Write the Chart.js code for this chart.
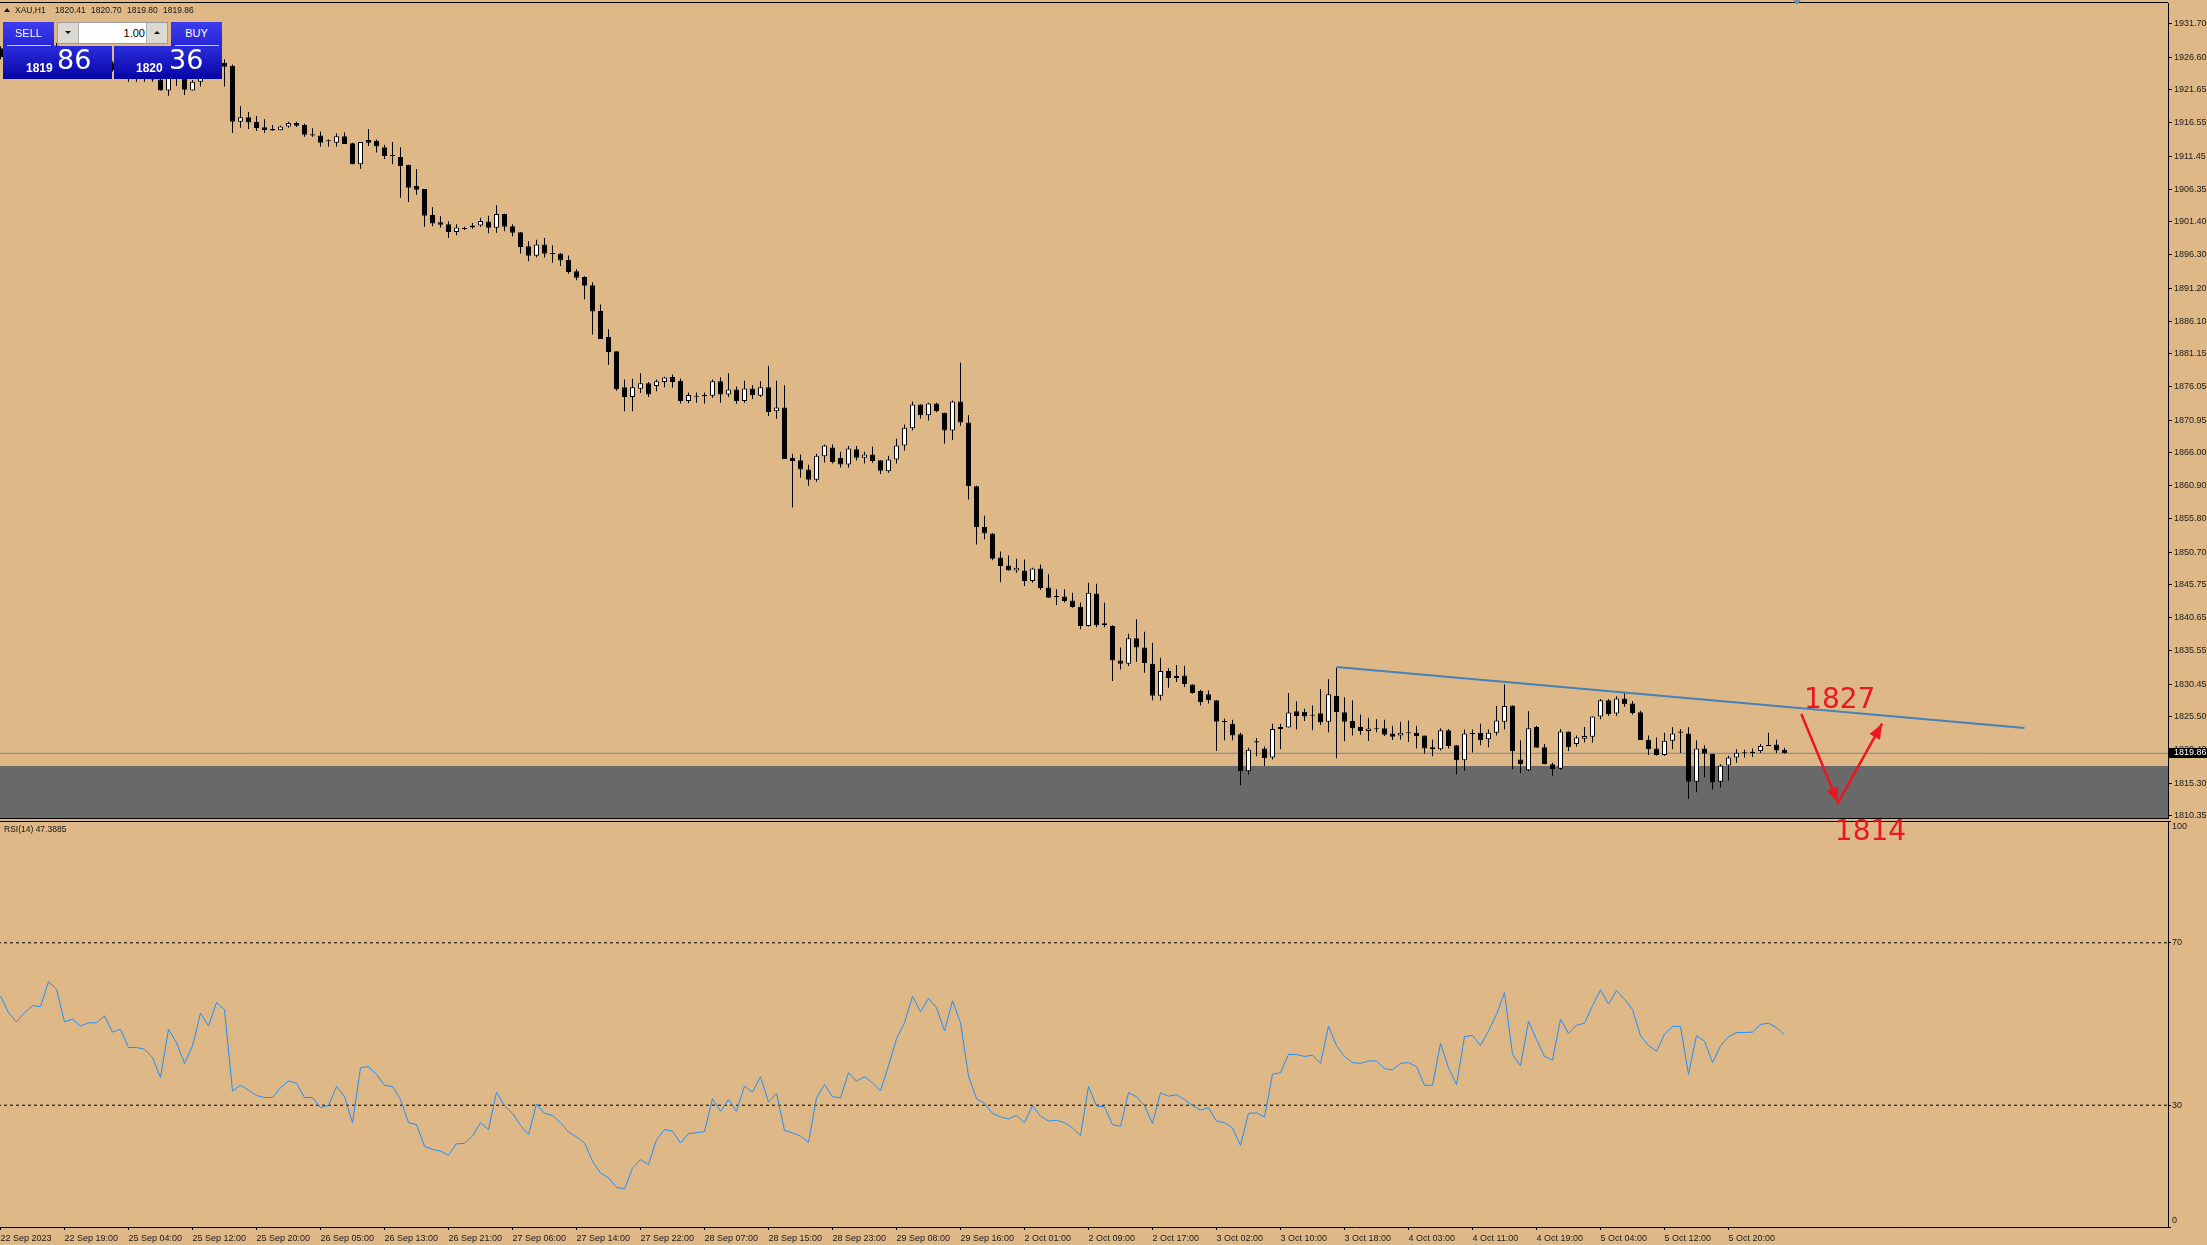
<!DOCTYPE html>
<html>
<head>
<meta charset="utf-8">
<script src="https://cdn.jsdelivr.net/npm/chart.js@4.4.0/dist/chart.umd.min.js"></script>
<style>
  html, body { margin: 0; padding: 0; background: #deb887; width: 2207px; height: 1245px; overflow: hidden;
    font-family: 'Liberation Sans', Arial, sans-serif; }
  canvas { position: absolute; left: 0; }
  #rsiCanvas { top: 821px; z-index: 1; }
  #mainCanvas { top: 0; z-index: 2; }
  #hdr span { position: absolute; top: 5px; font-size: 8.5px; line-height: 10px; color: #151515; z-index: 5; }
  .hTri { position: absolute; left: 4px; top: 8px; width: 0; height: 0; z-index: 5;
    border-left: 3px solid transparent; border-right: 3px solid transparent; border-bottom: 4px solid #111; }
  .btn { position: absolute; top: 22px; height: 24px; width: 51px; color: #fff; font-size: 11px; line-height: 23px;
    text-align: center; background: linear-gradient(#3c3cec, #2626d6); z-index: 5; }
  #sell { left: 3px; }
  #buy { left: 171px; }
  .sep { position: absolute; top: 45px; height: 1px; background: rgba(255,255,255,0.75); z-index: 6; }
  #lotBox { position: absolute; left: 57px; top: 22px; width: 109px; height: 20px; border: 1px solid #9c9c9c;
    background: #fff; z-index: 5; }
  .spin { position: absolute; top: 0; width: 20px; height: 20px; background: #dcd9d3; }
  #dn { left: 0; border-right: 1px solid #b0b0b0; }
  #up { right: 0; border-left: 1px solid #b0b0b0; }
  .spin i { position: absolute; left: 7px; top: 8px; width: 0; height: 0;
    border-left: 3px solid transparent; border-right: 3px solid transparent; }
  #dn i { border-top: 3px solid #111; }
  #up i { border-bottom: 3px solid #111; }
  #lot { position: absolute; left: 21px; width: 66px; top: 0; height: 20px; line-height: 20px; text-align: right;
    font-size: 11px; color: #000; }
  .pbox { position: absolute; top: 46px; height: 33px; background: linear-gradient(#2c2cdc, #0505a4); z-index: 5; }
  #sellBox { left: 3px; width: 109px; }
  #buyBox { left: 114px; width: 108px; }
  .pbox .small { position: absolute; top: 16px; font-size: 12px; line-height: 12px; font-weight: bold; color: #fff; }
  .pbox .big { position: absolute; top: 0; font-family: 'DejaVu Sans', sans-serif; font-size: 27px; line-height: 27px; color: #fff; }
  #rsiLabel { position: absolute; left: 4px; top: 824px; font-size: 8.5px; line-height: 10px; color: #151515; z-index: 5; }
  #shiftMark { position: absolute; left: 1793px; top: 0; width: 0; height: 0; z-index: 5;
    border-left: 4px solid transparent; border-right: 4px solid transparent; border-top: 5px solid #7f8fa0; }
</style>
</head>
<body>
<canvas id="rsiCanvas" width="2207" height="424"></canvas>
<canvas id="mainCanvas" width="2207" height="860"></canvas>

<div id="hdr">
  <div class="hTri"></div>
  <span style="left:15px">XAU,H1</span>
  <span style="left:55px">1820.41</span>
  <span style="left:91px">1820.70</span>
  <span style="left:127px">1819.80</span>
  <span style="left:163px">1819.86</span>
</div>
<div class="btn" id="sell">SELL</div>
<div id="lotBox"><div class="spin" id="dn"><i></i></div><div id="lot">1.00</div><div class="spin" id="up"><i></i></div></div>
<div class="btn" id="buy">BUY</div>
<div class="sep" style="left:7px;width:44px"></div>
<div class="sep" style="left:175px;width:44px"></div>
<div class="pbox" id="sellBox"><span class="small" style="left:23px">1819</span><span class="big" style="left:54px">86</span></div>
<div class="pbox" id="buyBox"><span class="small" style="left:22px">1820</span><span class="big" style="left:55px">36</span></div>
<div id="rsiLabel">RSI(14) 47.3885</div>
<div id="shiftMark"></div>

<script>
// XAUUSD H1 candles, bar 0 = 22 Sep 2023
const opens = [
  1928.0, 1926.6, 1925.8, 1925.2, 1925.9, 1926.4, 1926.3, 1928.4, 1927.9, 1925.4,
  1925.6, 1925.1, 1925.3, 1925.3, 1925.8, 1924.6, 1924.8, 1923.6, 1923.7, 1923.5,
  1923.2, 1921.5, 1923.6, 1923.3, 1921.5, 1922.85, 1925.2, 1924.3, 1925.76, 1925.3,
  1916.7, 1917.4, 1916.67, 1915.85, 1915.6, 1915.4, 1916.0, 1916.5, 1916.2, 1914.8,
  1914.6, 1913.75, 1913.5, 1914.5, 1913.4, 1910.2, 1913.9, 1913.8, 1912.8, 1911.6,
  1911.3, 1910.1, 1906.9, 1906.4, 1902.4, 1901.3, 1901.0, 1899.8, 1900.3, 1900.5,
  1900.8, 1901.4, 1900.45, 1902.55, 1900.7, 1899.75, 1897.6, 1896.15, 1897.9, 1896.6,
  1896.5, 1895.5, 1893.8, 1892.9, 1891.65, 1887.7, 1883.7, 1881.5, 1876.0, 1874.5,
  1875.75, 1876.6, 1876.2, 1876.8, 1877.55, 1877.0, 1873.9, 1874.55, 1874.6, 1874.7,
  1876.9, 1874.9, 1875.65, 1873.9, 1875.8, 1874.7, 1876.0, 1872.3, 1872.9, 1865.2,
  1864.8, 1863.4, 1861.8, 1865.4, 1866.75, 1865.2, 1864.15, 1866.5, 1865.2, 1865.7,
  1864.8, 1863.1, 1864.9, 1867.05, 1869.7, 1873.35, 1871.7, 1873.5, 1872.1, 1869.35,
  1873.8, 1870.6, 1860.8, 1854.6, 1853.55, 1849.9, 1848.65, 1847.9, 1847.9, 1846.3,
  1848.2, 1845.3, 1844.0, 1843.9, 1843.3, 1842.35, 1839.4, 1844.35, 1839.8, 1839.4,
  1834.1, 1833.6, 1837.5, 1836.1, 1833.6, 1828.7, 1832.5, 1831.4, 1831.8, 1830.4,
  1829.4, 1828.9, 1828.0, 1824.8, 1824.4, 1822.8, 1817.1, 1821.7, 1820.6, 1819.2,
  1823.9, 1823.8, 1826.3, 1826.25, 1825.65, 1826.0, 1824.7, 1828.7, 1826.15, 1824.8,
  1823.9, 1823.3, 1823.65, 1823.7, 1822.9, 1822.6, 1823.0, 1823.0, 1822.6, 1820.8,
  1820.5, 1823.4, 1821.1, 1818.8, 1823.0, 1823.0, 1822.0, 1823.0, 1824.7, 1827.2,
  1818.9, 1817.25, 1823.9, 1820.8, 1818.2, 1817.5, 1823.2, 1821.3, 1822.1, 1822.4,
  1825.5, 1828.0, 1825.95, 1828.25, 1827.5, 1826.15, 1821.95, 1820.6, 1819.6, 1821.8,
  1823.2, 1822.9, 1815.5, 1820.6, 1819.8, 1815.5, 1818.0, 1819.2, 1819.9, 1820.1,
  1820.2, 1821.0, 1821.2, 1820.41
];
const highs = [
  1928.3, 1927.0, 1926.1, 1926.1, 1926.7, 1926.8, 1928.9, 1928.8, 1928.1, 1926.0,
  1925.9, 1925.6, 1925.7, 1926.1, 1926.0, 1925.1, 1925.0, 1924.1, 1924.0, 1923.9,
  1923.6, 1923.9, 1923.9, 1923.6, 1923.1, 1925.4, 1925.6, 1926.1, 1926.3, 1925.5,
  1919.1, 1918.2, 1917.6, 1917.1, 1916.2, 1916.1, 1916.7, 1916.7, 1916.4, 1915.7,
  1915.2, 1914.0, 1914.9, 1915.1, 1913.5, 1913.6, 1915.6, 1914.0, 1913.2, 1913.6,
  1912.8, 1910.1, 1909.45, 1906.4, 1903.6, 1902.2, 1901.4, 1901.0, 1900.6, 1901.2,
  1902.0, 1902.3, 1903.9, 1902.6, 1901.0, 1899.8, 1898.4, 1898.6, 1898.9, 1897.75,
  1896.6, 1896.2, 1894.1, 1893.0, 1892.1, 1888.7, 1884.9, 1881.5, 1877.2, 1877.3,
  1878.15, 1876.8, 1877.2, 1877.6, 1877.95, 1877.35, 1875.2, 1875.2, 1875.2, 1877.2,
  1877.54, 1878.15, 1876.1, 1877.0, 1876.3, 1876.9, 1879.3, 1877.0, 1876.3, 1865.8,
  1865.7, 1864.1, 1865.8, 1867.2, 1867.2, 1866.1, 1867.0, 1867.0, 1866.1, 1866.9,
  1864.8, 1865.5, 1868.1, 1870.3, 1873.8, 1873.4, 1873.6, 1873.6, 1872.1, 1873.95,
  1879.8, 1871.7, 1860.9, 1856.3, 1853.6, 1850.8, 1850.2, 1849.7, 1849.6, 1848.3,
  1848.8, 1847.3, 1845.0, 1845.0, 1844.5, 1842.97, 1846.0, 1845.85, 1843.0, 1839.5,
  1836.1, 1838.2, 1840.4, 1838.5, 1836.8, 1834.5, 1832.9, 1833.4, 1833.3, 1830.4,
  1829.6, 1829.5, 1828.0, 1825.2, 1825.0, 1823.0, 1820.7, 1822.2, 1820.9, 1824.4,
  1824.4, 1829.1, 1827.8, 1826.7, 1827.2, 1829.7, 1831.2, 1832.95, 1828.45, 1828.0,
  1825.8, 1825.3, 1825.1, 1825.0, 1824.1, 1824.7, 1824.9, 1824.1, 1822.6, 1821.95,
  1823.7, 1823.6, 1821.1, 1823.5, 1823.5, 1824.4, 1823.5, 1827.1, 1830.4, 1827.2,
  1821.85, 1826.3, 1824.1, 1821.3, 1818.4, 1823.6, 1823.2, 1822.6, 1823.9, 1825.5,
  1828.2, 1828.2, 1828.6, 1829.1, 1827.9, 1826.4, 1822.6, 1822.3, 1823.0, 1823.85,
  1823.6, 1823.85, 1821.85, 1821.1, 1819.8, 1818.2, 1819.5, 1820.5, 1820.4, 1820.6,
  1821.3, 1823.0, 1821.95, 1820.70
];
const lows = [
  1926.3, 1925.5, 1924.9, 1925.0, 1925.7, 1926.0, 1926.1, 1927.6, 1925.1, 1925.1,
  1924.8, 1924.9, 1925.0, 1925.1, 1924.4, 1924.3, 1922.85, 1922.85, 1922.85, 1922.85,
  1921.5, 1920.7, 1922.2, 1920.8, 1921.5, 1922.1, 1924.0, 1924.1, 1922.1, 1915.0,
  1915.8, 1915.6, 1915.3, 1915.0, 1915.35, 1915.4, 1915.8, 1915.9, 1914.4, 1914.4,
  1912.9, 1912.9, 1912.9, 1913.3, 1910.2, 1909.5, 1913.0, 1912.0, 1911.0, 1910.2,
  1905.05, 1904.4, 1905.5, 1900.6, 1900.7, 1900.5, 1898.9, 1899.3, 1900.1, 1900.3,
  1900.6, 1899.6, 1899.7, 1899.9, 1899.1, 1896.5, 1895.3, 1895.9, 1895.9, 1895.1,
  1894.6, 1893.4, 1892.4, 1889.5, 1884.1, 1883.4, 1879.4, 1875.45, 1872.3, 1872.3,
  1875.1, 1874.5, 1875.4, 1876.0, 1875.9, 1873.5, 1873.55, 1873.6, 1873.45, 1874.4,
  1873.6, 1874.5, 1873.45, 1873.6, 1874.2, 1874.5, 1871.6, 1871.15, 1865.0, 1857.55,
  1862.1, 1860.9, 1861.5, 1864.45, 1864.3, 1863.7, 1863.7, 1864.75, 1864.3, 1864.4,
  1862.7, 1862.9, 1864.3, 1866.3, 1869.35, 1871.2, 1870.9, 1872.15, 1867.35, 1867.9,
  1870.1, 1858.8, 1851.9, 1852.7, 1849.45, 1846.1, 1847.9, 1847.55, 1845.5, 1846.0,
  1844.9, 1843.7, 1842.6, 1843.0, 1842.2, 1838.9, 1839.3, 1839.2, 1839.2, 1830.95,
  1832.7, 1833.25, 1833.9, 1832.2, 1828.0, 1828.0, 1829.9, 1830.8, 1830.03, 1829.0,
  1827.2, 1827.5, 1820.2, 1821.85, 1821.85, 1814.95, 1816.6, 1819.4, 1817.9, 1818.9,
  1820.5, 1823.8, 1823.5, 1824.8, 1823.4, 1824.2, 1823.1, 1819.1, 1821.7, 1822.6,
  1822.7, 1821.75, 1823.1, 1822.5, 1821.9, 1821.95, 1821.6, 1820.6, 1819.8, 1819.4,
  1820.3, 1820.6, 1816.6, 1817.2, 1820.0, 1821.1, 1820.8, 1822.6, 1823.5, 1817.4,
  1816.8, 1817.1, 1820.7, 1818.2, 1816.4, 1817.3, 1820.2, 1820.9, 1821.5, 1821.5,
  1825.1, 1825.6, 1825.6, 1827.0, 1825.8, 1821.9, 1819.6, 1819.5, 1819.5, 1820.5,
  1819.9, 1812.85, 1813.9, 1816.2, 1814.3, 1814.6, 1815.7, 1818.4, 1819.2, 1819.3,
  1819.9, 1821.0, 1819.9, 1819.80
];
const closes = [
  1926.6, 1925.8, 1925.2, 1925.9, 1926.4, 1926.3, 1928.4, 1927.9, 1925.4, 1925.6,
  1925.1, 1925.3, 1925.3, 1925.8, 1924.6, 1924.8, 1923.6, 1923.7, 1923.5, 1923.2,
  1921.5, 1923.6, 1923.3, 1921.6, 1922.85, 1925.2, 1924.3, 1925.8, 1925.15, 1916.7,
  1917.4, 1916.6, 1915.74, 1915.44, 1915.35, 1916.0, 1916.5, 1916.1, 1914.7, 1914.6,
  1913.5, 1913.85, 1914.5, 1913.3, 1910.2, 1913.6, 1913.5, 1912.9, 1911.45, 1911.4,
  1909.9, 1906.6, 1906.3, 1902.3, 1901.1, 1900.9, 1899.8, 1900.5, 1900.35, 1900.8,
  1901.5, 1900.45, 1902.55, 1900.6, 1899.7, 1897.5, 1896.15, 1897.9, 1896.45, 1896.4,
  1895.45, 1893.65, 1892.8, 1891.55, 1887.6, 1883.4, 1881.4, 1875.7, 1874.5, 1876.0,
  1876.6, 1874.9, 1876.9, 1877.5, 1876.8, 1873.9, 1874.8, 1874.65, 1874.8, 1876.9,
  1874.9, 1875.65, 1873.9, 1875.8, 1874.8, 1876.0, 1872.2, 1872.9, 1865.0, 1864.7,
  1863.4, 1861.8, 1865.5, 1867.05, 1864.55, 1864.15, 1866.6, 1865.2, 1865.7, 1864.7,
  1863.2, 1864.9, 1867.05, 1869.8, 1873.35, 1871.7, 1873.5, 1872.3, 1869.35, 1873.8,
  1870.6, 1860.8, 1854.55, 1853.55, 1849.7, 1848.6, 1847.9, 1848.3, 1846.3, 1848.2,
  1845.2, 1843.7, 1843.8, 1843.2, 1842.3, 1839.4, 1844.5, 1839.5, 1839.55, 1834.1,
  1833.6, 1837.5, 1836.1, 1833.7, 1828.7, 1832.5, 1831.4, 1831.7, 1830.5, 1829.1,
  1827.7, 1828.0, 1824.7, 1824.7, 1822.6, 1817.1, 1820.4, 1821.5, 1819.1, 1823.6,
  1823.6, 1826.1, 1825.6, 1825.5, 1825.75, 1824.6, 1828.9, 1826.2, 1824.7, 1823.7,
  1823.3, 1823.65, 1823.75, 1822.7, 1822.4, 1823.0, 1823.05, 1822.5, 1820.6, 1820.5,
  1823.4, 1821.0, 1818.8, 1822.9, 1822.8, 1821.85, 1823.0, 1824.9, 1827.1, 1820.2,
  1818.2, 1823.7, 1820.7, 1818.2, 1817.4, 1823.2, 1820.8, 1822.3, 1822.5, 1825.5,
  1828.0, 1825.9, 1828.25, 1827.4, 1826.05, 1821.9, 1820.5, 1819.6, 1821.8, 1822.9,
  1823.0, 1815.5, 1820.6, 1819.8, 1815.4, 1818.0, 1819.2, 1819.95, 1820.0, 1819.9,
  1821.0, 1821.1, 1820.3, 1819.86
];

// RSI(14) per bar
const rsiValues = [
  56.9, 52.8, 50.5, 52.8, 54.5, 54.3, 60.4, 58.6, 50.5, 51.2,
  49.5, 50.3, 50.3, 52.0, 48.0, 48.7, 44.2, 44.2, 43.8, 41.7,
  36.8, 48.7, 45.4, 40.3, 44.6, 52.7, 49.5, 55.3, 53.5, 33.5,
  34.9, 33.7, 32.4, 31.9, 31.9, 34.3, 36.0, 35.4, 31.9, 31.9,
  29.4, 29.9, 34.6, 32.1, 25.7, 39.2, 39.5, 37.6, 34.9, 34.6,
  31.4, 25.7, 25.2, 19.9, 19.1, 18.7, 17.7, 20.5, 20.6, 22.4,
  25.7, 24.0, 33.2, 29.8, 28.0, 25.0, 22.8, 30.3, 28.0, 27.5,
  25.7, 23.4, 22.2, 20.7, 16.2, 13.3, 12.1, 9.8, 9.4, 14.5,
  16.6, 15.4, 21.5, 24.0, 23.6, 20.7, 23.0, 23.2, 23.5, 31.6,
  28.5, 31.4, 28.5, 34.7, 33.2, 37.0, 30.8, 32.9, 23.8, 23.2,
  22.4, 20.9, 31.8, 35.1, 32.1, 31.8, 38.0, 35.9, 37.0, 35.5,
  33.5, 39.7, 46.4, 50.3, 56.8, 53.0, 56.3, 54.0, 48.3, 55.7,
  50.3, 37.2, 31.6, 30.4, 28.0, 27.1, 26.6, 27.5, 25.7, 29.9,
  27.3, 26.1, 26.3, 25.7, 24.4, 22.5, 34.6, 29.8, 29.6, 25.2,
  24.8, 33.1, 32.1, 29.9, 25.5, 33.1, 32.2, 32.6, 31.4, 29.9,
  28.8, 29.4, 26.1, 25.7, 24.4, 20.1, 28.0, 28.1, 27.1, 37.6,
  38.0, 42.5, 42.5, 42.0, 42.3, 40.3, 49.5, 44.7, 42.0, 40.5,
  40.3, 40.9, 40.9, 39.0, 38.7, 40.3, 40.5, 39.5, 34.9, 34.9,
  45.2, 39.2, 35.1, 46.9, 47.2, 44.7, 48.3, 52.4, 57.7, 42.5,
  39.7, 50.7, 46.2, 42.0, 41.1, 51.2, 47.7, 49.7, 50.2, 54.5,
  58.4, 54.9, 58.2, 56.1, 53.6, 47.1, 44.7, 43.3, 47.5, 49.4,
  49.4, 37.6, 47.1, 45.8, 40.5, 44.6, 46.9, 47.9, 47.9, 48.0,
  49.9, 50.2, 49.1, 47.39
];

const xTickLabels = [
  '22 Sep 2023', '22 Sep 19:00', '25 Sep 04:00', '25 Sep 12:00', '25 Sep 20:00', '26 Sep 05:00',
  '26 Sep 13:00', '26 Sep 21:00', '27 Sep 06:00', '27 Sep 14:00', '27 Sep 22:00', '28 Sep 07:00',
  '28 Sep 15:00', '28 Sep 23:00', '29 Sep 08:00', '29 Sep 16:00', '2 Oct 01:00', '2 Oct 09:00',
  '2 Oct 17:00', '3 Oct 02:00', '3 Oct 10:00', '3 Oct 18:00', '4 Oct 03:00', '4 Oct 11:00',
  '4 Oct 19:00', '5 Oct 04:00', '5 Oct 12:00', '5 Oct 20:00'
];
const priceTicks = [
  1931.70, 1926.60, 1921.65, 1916.55, 1911.45, 1906.35, 1901.40, 1896.30, 1891.20, 1886.10,
  1881.15, 1876.05, 1870.95, 1866.00, 1860.90, 1855.80, 1850.70, 1845.75, 1840.65, 1835.55,
  1830.45, 1825.50, 1820.40, 1815.30, 1810.35
];
const rsiTicks = [100, 70, 30, 0];
const rsiLevels = [70, 30];

const lastPrice = 1819.86;
const zoneTop = 1817.9;
const trendLine = [{ bar: 167, price: 1833.1 }, { bar: 253, price: 1823.74 }];
const arrowPath = [{ bar: 225.1, price: 1825.9 }, { bar: 229.7, price: 1812.3 }, { bar: 235.2, price: 1824.4 }];
const targetLabels = [{ text: '1827', bar: 229.9, price: 1828.0 }, { text: '1814', bar: 233.75, price: 1807.7 }];

Chart.defaults.font.family = "'Liberation Sans', Arial, sans-serif";
Chart.defaults.animation = false;

const X_MIN = -0.0625, X_MAX = 270.9375; // 8 px per bar
const RED = 'rgb(235,22,30)';

const wickData = opens.map((o, i) => ({ x: i, y: [lows[i], highs[i]] }));
const bodyData = opens.map((o, i) => {
  let lo = Math.min(o, closes[i]), hi = Math.max(o, closes[i]);
  if (hi - lo < 0.16) { const m = (lo + hi) / 2; lo = m - 0.08; hi = m + 0.08; }
  return { x: i, y: [lo, hi] };
});
const bodyColors = opens.map((o, i) => closes[i] > o ? '#ffffff' : '#000000');

const mainOverlay = {
  id: 'mainOverlay',
  afterDraw(chart) {
    const { ctx, chartArea: a, scales: { x, y } } = chart;
    ctx.save();
    ctx.strokeStyle = '#000';
    ctx.lineWidth = 1;
    ctx.beginPath();
    ctx.moveTo(0, a.top - 0.5); ctx.lineTo(a.right, a.top - 0.5);
    ctx.moveTo(0, a.bottom + 0.5); ctx.lineTo(a.right, a.bottom + 0.5);
    ctx.stroke();

    // bid price tag on the axis
    const py = Math.round(y.getPixelForValue(lastPrice));
    ctx.fillStyle = '#000';
    ctx.fillRect(a.right + 1, py - 5, 40, 10);
    ctx.fillStyle = '#fff';
    ctx.font = "9px 'Liberation Sans'";
    ctx.textAlign = 'left';
    ctx.textBaseline = 'middle';
    ctx.fillText(lastPrice.toFixed(2), a.right + 6, py);

    // arrow heads
    const pts = arrowPath.map(p => ({ px: x.getPixelForValue(p.bar), py: y.getPixelForValue(p.price) }));
    const head = (from, to) => {
      const ang = Math.atan2(to.py - from.py, to.px - from.px);
      const L = 15, W = 6;
      const bx = to.px - L * Math.cos(ang), by = to.py - L * Math.sin(ang);
      ctx.beginPath();
      ctx.moveTo(to.px, to.py);
      ctx.lineTo(bx + W * Math.sin(ang), by - W * Math.cos(ang));
      ctx.lineTo(bx - W * Math.sin(ang), by + W * Math.cos(ang));
      ctx.closePath();
      ctx.fill();
    };
    ctx.fillStyle = RED;
    head(pts[0], pts[1]);
    head(pts[1], pts[2]);

    ctx.font = "28px 'DejaVu Sans'";
    ctx.textAlign = 'center';
    targetLabels.forEach(t => {
      ctx.fillText(t.text, x.getPixelForValue(t.bar), y.getPixelForValue(t.price));
    });
    ctx.restore();
  }
};

new Chart(document.getElementById('mainCanvas'), {
  type: 'bar',
  data: {
    datasets: [
      {
        type: 'line', order: 10,
        data: [{ x: X_MIN - 1, y: zoneTop }, { x: X_MAX + 1, y: zoneTop }],
        fill: 'start', backgroundColor: 'rgb(105,105,105)', borderWidth: 0, pointRadius: 0
      },
      {
        type: 'line', order: 9,
        data: [{ x: X_MIN - 1, y: lastPrice }, { x: X_MAX + 1, y: lastPrice }],
        borderColor: 'rgb(119,136,153)', borderWidth: 1, pointRadius: 0
      },
      {
        order: 3, data: wickData, backgroundColor: '#000', borderWidth: 0,
        barThickness: 1, grouped: false, inflateAmount: 0
      },
      {
        order: 2, data: bodyData, backgroundColor: bodyColors, borderColor: '#000', borderWidth: 1,
        borderSkipped: false, barThickness: 5, grouped: false, inflateAmount: 0
      },
      {
        type: 'line', order: 1,
        data: trendLine.map(p => ({ x: p.bar, y: p.price })),
        borderColor: 'rgb(70,130,185)', borderWidth: 2, pointRadius: 0
      },
      {
        type: 'line', order: 0,
        data: arrowPath.map(p => ({ x: p.bar, y: p.price })),
        borderColor: RED, borderWidth: 2.5, pointRadius: 0
      }
    ]
  },
  options: {
    responsive: false,
    events: [],
    layout: { padding: { top: 3, bottom: 42, left: 0, right: 0 } },
    plugins: { legend: { display: false }, tooltip: { enabled: false } },
    scales: {
      x: { type: 'linear', display: false, min: X_MIN, max: X_MAX, offset: false },
      y: {
        position: 'right',
        min: 1809.94, max: 1934.92,
        bounds: 'data',
        afterBuildTicks: s => { s.ticks = priceTicks.map(v => ({ value: v })); },
        afterFit: s => { s.width = 39; s.paddingTop = 0; s.paddingBottom = 0; },
        grid: { drawOnChartArea: false, drawTicks: true, tickLength: 4, color: '#000' },
        border: { display: true, color: '#000', width: 1 },
        ticks: {
          autoSkip: false, padding: 2, color: '#1a1a1a',
          font: { size: 9 },
          callback: v => Number(v).toFixed(2)
        }
      }
    }
  },
  plugins: [mainOverlay]
});

const rsiOverlay = {
  id: 'rsiOverlay',
  afterDraw(chart) {
    const { ctx, chartArea: a, scales: { y } } = chart;
    ctx.save();
    ctx.strokeStyle = '#000';
    ctx.lineWidth = 1;
    ctx.beginPath();
    ctx.moveTo(0, a.top + 0.5); ctx.lineTo(a.right, a.top + 0.5);
    ctx.stroke();
    ctx.fillStyle = '#1a1a1a';
    ctx.font = "9px 'Liberation Sans'";
    ctx.textAlign = 'left';
    ctx.textBaseline = 'middle';
    rsiTicks.forEach(v => {
      let py = y.getPixelForValue(v);
      if (v === 100) py = a.top + 6;
      if (v === 0) py = a.bottom - 6;
      ctx.fillText(String(v), a.right + 4, py);
    });
    ctx.restore();
  }
};

new Chart(document.getElementById('rsiCanvas'), {
  type: 'line',
  data: {
    datasets: [
      ...rsiLevels.map(l => ({
        order: 2,
        data: [{ x: X_MIN - 1, y: l }, { x: X_MAX + 1, y: l }],
        borderColor: '#000', borderWidth: 1, borderDash: [3, 3], pointRadius: 0
      })),
      {
        order: 1,
        data: rsiValues.map((v, i) => ({ x: i, y: v })),
        borderColor: 'rgb(30,144,255)', borderWidth: 1, pointRadius: 0, tension: 0
      }
    ]
  },
  options: {
    responsive: false,
    events: [],
    layout: { padding: 0 },
    plugins: { legend: { display: false }, tooltip: { enabled: false } },
    scales: {
      x: {
        type: 'linear', position: 'bottom', min: X_MIN, max: X_MAX,
        afterBuildTicks: s => { s.ticks = xTickLabels.map((t, k) => ({ value: k * 8 })); },
        afterFit: s => { s.height = 18; s.paddingLeft = 0; s.paddingRight = 0; },
        grid: { drawOnChartArea: false, drawTicks: true, tickLength: 3, color: '#000' },
        border: { display: true, color: '#000', width: 1 },
        ticks: {
          autoSkip: false, maxRotation: 0, align: 'start', padding: 3, color: '#1a1a1a',
          font: { size: 9 },
          callback: v => xTickLabels[Math.round(v / 8)]
        }
      },
      y: {
        position: 'right', min: 0, max: 100,
        afterBuildTicks: s => { s.ticks = rsiTicks.map(v => ({ value: v })); },
        afterFit: s => { s.width = 39; s.paddingTop = 0; s.paddingBottom = 0; },
        grid: { drawOnChartArea: false, drawTicks: true, tickLength: 3, color: '#000' },
        border: { display: true, color: '#000', width: 1 },
        ticks: { display: false }
      }
    }
  },
  plugins: [rsiOverlay]
});
</script>
</body>
</html>
